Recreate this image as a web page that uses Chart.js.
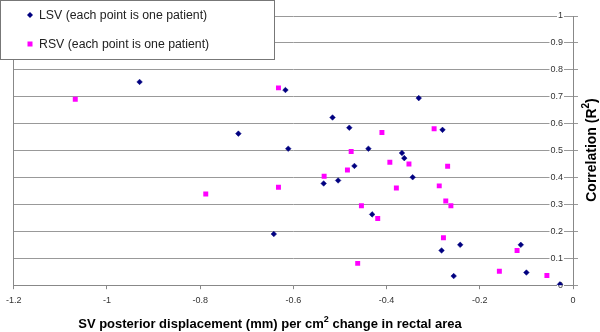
<!DOCTYPE html>
<html>
<head>
<meta charset="utf-8">
<script src="https://cdn.jsdelivr.net/npm/chart.js@4"></script>
<style>
  html, body { margin: 0; padding: 0; background: #fff; }
</style>
</head>
<body>
<canvas id="myChart" width="600" height="332"></canvas>
<script>
'use strict'

const lsvLabel = 'LSV (each point is one patient)';
const rsvLabel = 'RSV (each point is one patient)';

const lsvX = [-0.930, -0.617, -0.718, -0.611, -0.516, -0.480, -0.331, -0.280, -0.439, -0.367, -0.362, -0.469,
              -0.535, -0.504, -0.344, -0.431, -0.242, -0.282, -0.256, -0.112, -0.100, -0.028, -0.642];
const lsvY = [0.755, 0.725, 0.563, 0.507, 0.623, 0.585, 0.695, 0.577, 0.507, 0.491, 0.472, 0.443,
              0.378, 0.389, 0.401, 0.263, 0.150, 0.129, 0.034, 0.150, 0.047, 0.003, 0.190];

const rsvX = [-1.068, -0.632, -0.410, -0.298, -0.476, -0.393, -0.352, -0.269, -0.484, -0.534, -0.379, -0.287,
              -0.273, -0.262, -0.454, -0.419, -0.278, -0.462, -0.158, -0.120, -0.056, -0.788, -0.632];
const rsvY = [0.691, 0.733, 0.567, 0.581, 0.497, 0.457, 0.450, 0.442, 0.428, 0.405, 0.361, 0.369,
              0.313, 0.295, 0.295, 0.248, 0.176, 0.081, 0.052, 0.129, 0.036, 0.339, 0.364];

const xTicks = [-1.2, -1, -0.8, -0.6, -0.4, -0.2, 0];
const yTicks = [0, 0.1, 0.2, 0.3, 0.4, 0.5, 0.6, 0.7, 0.8, 0.9, 1];

const xTitle = ['SV posterior displacement (mm) per cm', '2', ' change in rectal area'];
const yTitle = ['Correlation (R', '2', ')'];

const family = '"Liberation Sans", Arial, sans-serif';
const navy = '#000080';
const magenta = '#ff00ff';

function toPoints(xs, ys){
    return xs.map((x, i) => ({x: x, y: ys[i]}));
}

// draws text with a superscript middle part, centred on (0,0)
function richText(ctx, parts, size){
    const big = 'bold ' + size + 'px ' + family;
    const small = 'bold ' + Math.round(size * 0.7) + 'px ' + family;
    let widths = parts.map((p, i) => {
        ctx.font = i === 1 ? small : big;
        return ctx.measureText(p).width;
    });
    let total = widths.reduce((a, b) => a + b, 0);
    let x = -total / 2;
    ctx.textBaseline = 'middle';
    ctx.textAlign = 'left';
    parts.forEach((p, i) => {
        ctx.font = i === 1 ? small : big;
        ctx.fillText(p, x, i === 1 ? -size * 0.38 : 0);
        x += widths[i];
    });
}

const framePlugin = {
    id: 'frame',
    afterDraw(chart){
        const ctx = chart.ctx;
        ctx.save();

        // legend box
        ctx.fillStyle = '#fff';
        ctx.fillRect(0, 0, 275, 60);
        ctx.strokeStyle = '#777';
        ctx.lineWidth = 1;
        ctx.strokeRect(0.5, 0.5, 274, 59);

        ctx.fillStyle = navy;
        ctx.beginPath();
        ctx.moveTo(30, 12); ctx.lineTo(33, 15); ctx.lineTo(30, 18); ctx.lineTo(27, 15);
        ctx.closePath();
        ctx.fill();
        ctx.fillStyle = magenta;
        ctx.fillRect(27.5, 41.5, 5, 5);

        ctx.fillStyle = '#222';
        ctx.font = '12.3px ' + family;
        ctx.textBaseline = 'middle';
        ctx.fillText(lsvLabel, 39, 15.5);
        ctx.fillText(rsvLabel, 39, 44.5);

        // axis titles
        ctx.fillStyle = '#000';
        ctx.save();
        ctx.translate(270, 324);
        richText(ctx, xTitle, 13);
        ctx.restore();

        ctx.save();
        ctx.translate(592, 150);
        ctx.rotate(-Math.PI / 2);
        richText(ctx, yTitle, 14);
        ctx.restore();

        ctx.restore();
    }
};

const data = {
    datasets: [{
        label: lsvLabel,
        data: toPoints(lsvX, lsvY),
        pointStyle: 'rectRot',
        pointRadius: 2.8,
        backgroundColor: navy,
        borderColor: navy,
        borderWidth: 0.5
    }, {
        label: rsvLabel,
        data: toPoints(rsvX, rsvY),
        pointStyle: 'rect',
        pointRadius: 3.5,
        backgroundColor: magenta,
        borderColor: magenta,
        borderWidth: 0
    }]
};

const config = {
    type: 'scatter',
    data: data,
    options: {
        responsive: false,
        animation: false,
        devicePixelRatio: 1,
        layout: {padding: {left: 13, top: 16, right: 27, bottom: 20}},
        plugins: {legend: {display: false}, tooltip: {enabled: false}},
        scales: {
            x: {
                type: 'linear',
                position: 'bottom',
                min: -1.2,
                max: 0,
                afterBuildTicks: s => { s.ticks = xTicks.map(v => ({value: v})); },
                grid: {drawOnChartArea: false, drawTicks: true, tickLength: 4, color: '#888'},
                border: {color: '#888'},
                ticks: {
                    padding: 6, color: '#333', autoSkip: false, maxRotation: 0,
                    font: {family: family, size: 9},
                    callback: v => String(v)
                }
            },
            y: {
                type: 'linear',
                position: 'right',
                min: 0,
                max: 1,
                afterBuildTicks: s => { s.ticks = yTicks.map(v => ({value: v})); },
                grid: {color: '#999', tickLength: 5},
                border: {color: '#888'},
                ticks: {
                    mirror: true, padding: -10, color: '#333', autoSkip: false,
                    font: {family: family, size: 9},
                    showLabelBackdrop: true, backdropColor: '#fff', backdropPadding: {x: 1, y: 0},
                    callback: v => String(v)
                }
            },
            y2: {
                type: 'linear',
                position: 'left',
                grid: {drawOnChartArea: false, drawTicks: false},
                border: {color: '#888'},
                ticks: {display: false}
            }
        }
    },
    plugins: [framePlugin]
};

const myChart = new Chart(
    document.getElementById('myChart'),
    config
);
</script>
</body>
</html>
